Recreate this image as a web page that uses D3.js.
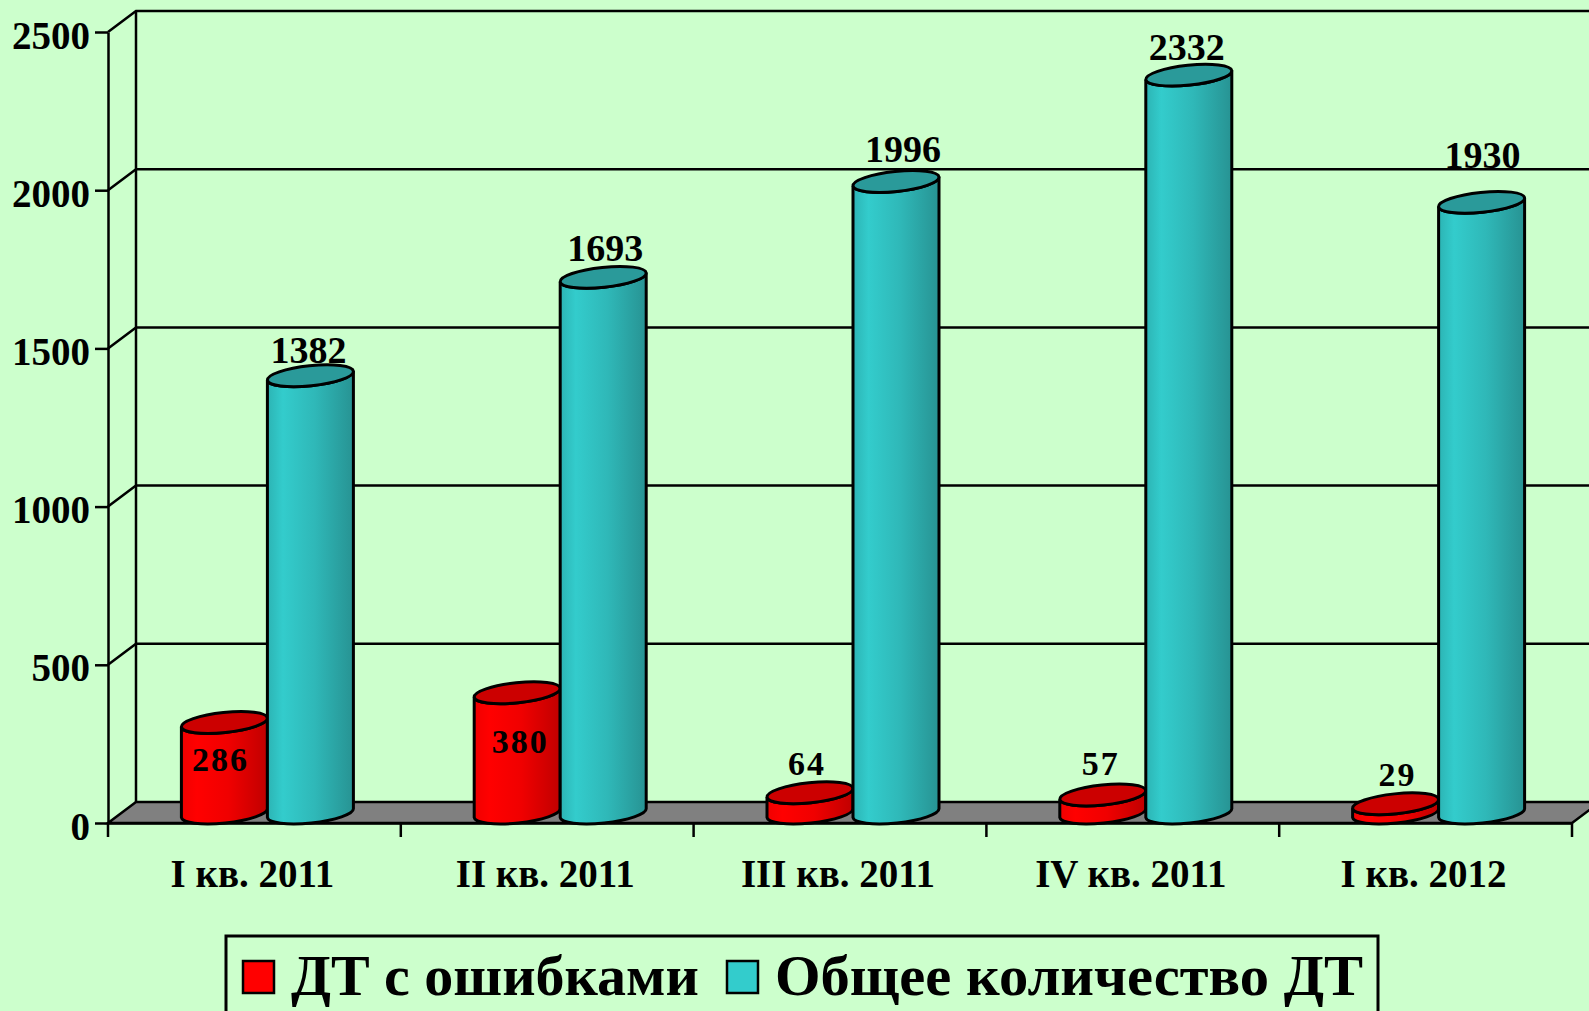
<!DOCTYPE html>
<html>
<head>
<meta charset="utf-8">
<script src="https://cdn.jsdelivr.net/npm/d3@7"></script>
<style>
  html, body { margin: 0; padding: 0; background: #ccffcc; overflow: hidden; }
  svg { display: block; }
  text { font-family: "Liberation Serif", serif; font-weight: bold; fill: #000; }
</style>
</head>
<body>
<div id="chart"></div>
<script>
var categories = ["I кв. 2011", "II кв. 2011", "III кв. 2011", "IV кв. 2011", "I кв. 2012"];
var seriesNames = ["ДТ с ошибками", "Общее количество ДТ"];
var errorValues = [286, 380, 64, 57, 29];
var totalValues = [1382, 1693, 1996, 2332, 1930];
var yTicks = [0, 500, 1000, 1500, 2000, 2500];

// the labels were placed by hand in the original, so each one gets its own nudge
var errorLabelDx = [-4, 3, -3, -2, 2];
var errorLabelDy = [38, 50, -28, -30, -28];
var totalLabelDx = [-2, 2, 7, -2, 1];
var totalLabelDy = [-23, -26, -29, -25, -44];

var width = 1589, height = 1011;
var depthX = 28, depthY = 21;
var axisLeft = 108, axisRight = 1572, axisBottom = 823, axisTop = 32;

var svg = d3.select("#chart").append("svg")
    .attr("width", width)
    .attr("height", height)
    .style("background", "#ccffcc");

var defs = svg.append("defs");
function addGradient(id, stops) {
  var g = defs.append("linearGradient").attr("id", id)
      .attr("x1", "0%").attr("x2", "100%").attr("y1", "0%").attr("y2", "0%");
  stops.forEach(function(s) {
    g.append("stop").attr("offset", s[0]).attr("stop-color", s[1]);
  });
}
addGradient("redBody", [["0%", "#f00000"], ["18%", "#ff0000"], ["55%", "#f00000"], ["100%", "#c00000"]]);
addGradient("tealBody", [["0%", "#2cb4b4"], ["18%", "#33cccc"], ["55%", "#2fb8b8"], ["100%", "#279393"]]);

var x0 = d3.scaleBand()
    .domain(categories)
    .range([axisLeft, axisRight]);

var y = d3.scaleLinear()
    .domain([0, 2500])
    .range([axisBottom, axisTop]);

// pair of cylinders sits a bit right of the band centre because of the depth
var x1 = d3.scaleBand()
    .domain(seriesNames)
    .range([x0.bandwidth() / 2 - 73, x0.bandwidth() / 2 + 99]);

// floor
svg.append("polygon")
    .attr("points", [
      [axisLeft, axisBottom],
      [axisLeft + depthX, axisBottom - depthY],
      [axisRight + depthX, axisBottom - depthY],
      [axisRight, axisBottom]
    ].join(" "))
    .attr("fill", "#808080")
    .attr("stroke", "#000")
    .attr("stroke-width", 2.5);

// back wall and gridlines
svg.selectAll(".grid")
    .data(yTicks.slice(1))
  .enter().append("polyline")
    .attr("class", "grid")
    .attr("fill", "none")
    .attr("stroke", "#000")
    .attr("stroke-width", 2.5)
    .attr("points", function(d) {
      return [[axisLeft, y(d)], [axisLeft + depthX, y(d) - depthY], [width + 5, y(d) - depthY]].join(" ");
    });

svg.append("line")
    .attr("x1", axisLeft + depthX).attr("x2", axisLeft + depthX)
    .attr("y1", y(2500) - depthY).attr("y2", axisBottom - depthY)
    .attr("stroke", "#000").attr("stroke-width", 2.5);

// axes
var yAxis = svg.append("g")
    .attr("transform", "translate(" + axisLeft + ",0)")
    .call(d3.axisLeft(y).tickValues(yTicks).tickSize(13).tickSizeOuter(0).tickFormat(d3.format("d")));
yAxis.selectAll("path, line").attr("stroke", "#000").attr("stroke-width", 2.5);
yAxis.selectAll("text")
    .attr("font-family", null)
    .style("font-size", "39px")
    .attr("x", -18)
    .attr("dy", "16px");

var xAxis = svg.append("g")
    .attr("transform", "translate(0," + axisBottom + ")")
    .call(d3.axisBottom(x0).tickSize(0).tickSizeOuter(0));
xAxis.selectAll("path").attr("stroke", "#000").attr("stroke-width", 2.5);
xAxis.selectAll("text")
    .style("font-size", "39px")
    .attr("x", -2)
    .attr("y", 64)
    .attr("dy", 0);

// ticks sit on the band edges, not on the centres
svg.selectAll(".edgeTick")
    .data(d3.range(categories.length + 1))
  .enter().append("line")
    .attr("class", "edgeTick")
    .attr("x1", function(i) { return axisLeft + i * x0.step(); })
    .attr("x2", function(i) { return axisLeft + i * x0.step(); })
    .attr("y1", axisBottom)
    .attr("y2", axisBottom + 14)
    .attr("stroke", "#000")
    .attr("stroke-width", 2.5);

// cylinders
var slant = 4.5, capHeight = 10, capLift = 10;

function bodyPath(left, w, value) {
  var top = y(value) - capLift, bottom = y(0) - capLift;
  var rx = Math.sqrt(w * w / 4 + slant * slant);
  var rot = -Math.atan2(2 * slant, w) * 180 / Math.PI;
  return "M" + left + "," + (top + slant) +
    "L" + left + "," + (bottom + slant) +
    "A" + rx + "," + capHeight + " " + rot + " 0 0 " + (left + w) + "," + (bottom - slant) +
    "L" + (left + w) + "," + (top - slant) +
    "A" + rx + "," + capHeight + " " + rot + " 0 1 " + left + "," + (top + slant) + "Z";
}

function capTransform(left, w, value) {
  var rot = -Math.atan2(2 * slant, w) * 180 / Math.PI;
  return "translate(" + (left + w / 2) + "," + (y(value) - capLift) + ") rotate(" + rot + ")";
}

function drawCylinders(name, values, bodyFill, capFill) {
  var g = svg.append("g").attr("class", "series");
  var w = x1.bandwidth();
  var left = function(i) { return x0(categories[i]) + x1(name); };

  g.selectAll(".body")
      .data(values)
    .enter().append("path")
      .attr("class", "body")
      .attr("d", function(d, i) { return bodyPath(left(i), w, d); })
      .attr("fill", bodyFill)
      .attr("stroke", "#000")
      .attr("stroke-width", 3);

  g.selectAll(".cap")
      .data(values)
    .enter().append("ellipse")
      .attr("class", "cap")
      .attr("transform", function(d, i) { return capTransform(left(i), w, d); })
      .attr("rx", Math.sqrt(w * w / 4 + slant * slant))
      .attr("ry", capHeight)
      .attr("fill", capFill)
      .attr("stroke", "#000")
      .attr("stroke-width", 3);
}

drawCylinders(seriesNames[0], errorValues, "url(#redBody)", "#cc0000");
drawCylinders(seriesNames[1], totalValues, "url(#tealBody)", "#2a9a9a");

// value labels
function drawLabels(name, values, dx, dy, size, spacing) {
  svg.selectAll(".label" + name.length)
      .data(values)
    .enter().append("text")
      .attr("class", "label" + name.length)
      .attr("x", function(d, i) { return x0(categories[i]) + x1(name) + x1.bandwidth() / 2 + dx[i]; })
      .attr("y", function(d, i) { return y(d) + dy[i]; })
      .attr("text-anchor", "middle")
      .style("font-size", size + "px")
      .style("letter-spacing", spacing + "px")
      .text(function(d) { return d; });
}
drawLabels(seriesNames[0], errorValues, errorLabelDx, errorLabelDy, 34, 2);
drawLabels(seriesNames[1], totalValues, totalLabelDx, totalLabelDy, 38, 0);

// legend runs off the bottom of the picture, same as the original
var legend = svg.append("g");
legend.append("rect")
    .attr("x", 226).attr("y", 936)
    .attr("width", 1152).attr("height", 120)
    .attr("fill", "none")
    .attr("stroke", "#000")
    .attr("stroke-width", 3);

var legendItems = [
  {name: seriesNames[0], color: "#ff0000", box: 243, text: 291, len: 408},
  {name: seriesNames[1], color: "#33cccc", box: 727, text: 775, len: 588}
];
legendItems.forEach(function(d) {
  legend.append("rect")
      .attr("x", d.box).attr("y", 961)
      .attr("width", 31).attr("height", 32)
      .attr("fill", d.color)
      .attr("stroke", "#000")
      .attr("stroke-width", 2.5);
  legend.append("text")
      .attr("x", d.text).attr("y", 995)
      .attr("textLength", d.len)
      .attr("lengthAdjust", "spacingAndGlyphs")
      .style("font-size", "58px")
      .text(d.name);
});
</script>
</body>
</html>
